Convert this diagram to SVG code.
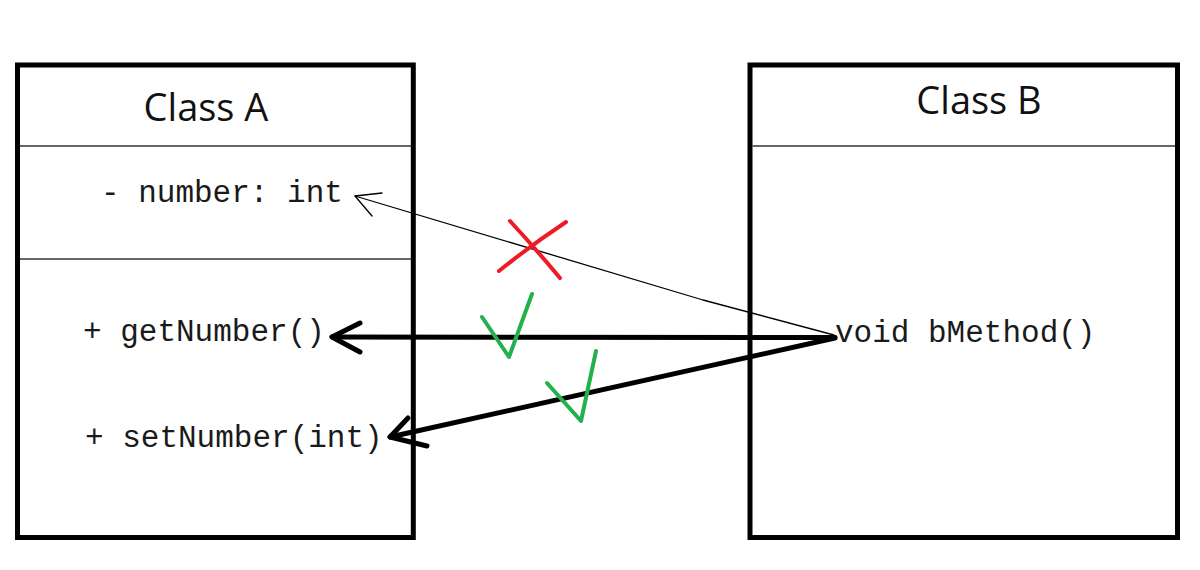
<svg xmlns="http://www.w3.org/2000/svg" width="1200" height="570" viewBox="0 0 1200 570">
  <defs>
    <style>
      .box { fill: #ffffff; stroke: #000000; stroke-width: 5; }
      .div { stroke: #333333; stroke-width: 1.5; fill: none; }
      .title { font-family: "Open Sans", "Noto Sans", "Liberation Sans", sans-serif; font-size: 38px; fill: #111111; text-anchor: middle; }
      .mono { font-family: "Liberation Mono", "DejaVu Sans Mono", monospace; font-size: 31px; fill: #1a1a1a; }
      .thin { stroke: #000000; stroke-width: 1.3; fill: none; stroke-linecap: round; stroke-linejoin: round; }
      .thick { stroke: #000000; stroke-width: 5; fill: none; stroke-linecap: round; stroke-linejoin: round; }
      .cross { stroke: #ed1c24; stroke-width: 4; fill: none; stroke-linecap: round; stroke-linejoin: round; }
      .check { stroke: #22b14c; stroke-width: 4; fill: none; stroke-linecap: round; stroke-linejoin: round; }
    </style>
  </defs>
  <rect width="1200" height="570" fill="#ffffff"/>

  <g id="classA">
    <rect class="box" x="17.5" y="65" width="395.8" height="472.5"/>
    <line class="div" x1="20" y1="146" x2="411" y2="146"/>
    <line class="div" x1="20" y1="259" x2="411" y2="259"/>
    <text class="title" x="206" y="121">Class A</text>
    <text class="mono" x="101" y="201.5">- number: int</text>
    <text class="mono" x="83" y="341">+ getNumber()</text>
    <text class="mono" x="85" y="446.5">+ setNumber(int)</text>
  </g>

  <g id="classB">
    <rect class="box" x="750" y="65" width="427.5" height="472.5"/>
    <line class="div" x1="752.5" y1="146" x2="1175" y2="146"/>
    <text class="title" x="979" y="114">Class B</text>
    <text class="mono" x="835" y="341.5">void bMethod()</text>
  </g>

  <g id="connectors">
    <polyline class="thin" points="834,335 703,300 355,196"/>
    <polyline class="thin" points="382,193 355,196 372,216"/>
    <line class="thick" x1="835" y1="337.5" x2="332" y2="337"/>
    <polyline class="thick" points="360,323 332,337 360,352"/>
    <line class="thick" x1="835" y1="338" x2="390" y2="437"/>
    <polyline class="thick" points="408,418 390,437 427,446"/>
  </g>

  <g id="marks">
    <path class="cross" d="M510,221 Q535,248 560,278"/>
    <path class="cross" d="M566,222 Q530,246 499,271"/>
    <polyline class="check" points="482,317 509,357 532,294"/>
    <polyline class="check" points="547,383 581,421 596,351"/>
  </g>
</svg>
